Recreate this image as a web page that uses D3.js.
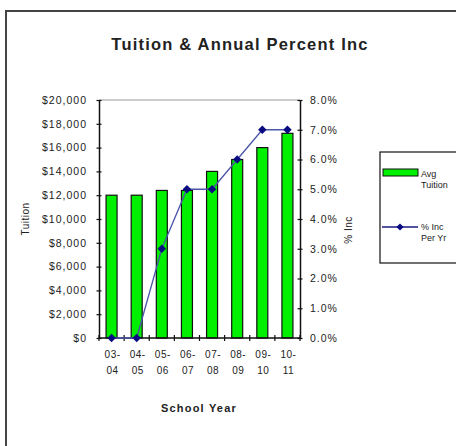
<!DOCTYPE html>
<html><head><meta charset="utf-8">
<script src="https://cdn.jsdelivr.net/npm/d3@7"></script>
<style>body{margin:0;background:#fff}svg{display:block}text{font-family:"Liberation Sans",Arial,sans-serif;fill:#222}</style>
</head><body><svg id="c" width="456" height="446"></svg>
<script>
const categories = [["03-","04"],["04-","05"],["05-","06"],["06-","07"],["07-","08"],["08-","09"],["09-","10"],["10-","11"]];
const tuition = [12000,12000,12400,12400,14000,15000,16000,17200];
const pctInc = [0,0,3,5,5,6,7,7];
const leftTicks = [0,2000,4000,6000,8000,10000,12000,14000,16000,18000,20000];
const rightTicks = [0,1,2,3,4,5,6,7,8];

const svg = d3.select("#c");
const L=99,R=300,T=100,B=338;
// outer border
svg.append("rect").attr("x",6).attr("y",11).attr("width",470).attr("height",460)
  .attr("fill","none").attr("stroke","#444").attr("stroke-width",2);

const x = d3.scaleBand().domain(d3.range(categories.length)).range([L,R]);
const yL = d3.scaleLinear().domain([0,20000]).range([B,T]);
const yR = d3.scaleLinear().domain([0,8]).range([B,T]);

// plot top border
svg.append("line").attr("x1",L).attr("x2",R).attr("y1",T).attr("y2",T).attr("stroke","#999").attr("stroke-width",1);

// bars
const bw = 11;
svg.selectAll("rect.bar").data(tuition).enter().append("rect")
  .attr("x",(d,i)=>x(i)+x.bandwidth()/2-bw/2).attr("width",bw)
  .attr("y",d=>yL(d)).attr("height",d=>B-yL(d))
  .attr("fill","#00f000").attr("stroke","#111").attr("stroke-width",1.2);

const fmtL = d=>"$"+d3.format(",")(d);
const axL = d3.axisLeft(yL).tickValues(leftTicks).tickFormat(fmtL).tickSize(5).tickSizeOuter(0);
const gL = svg.append("g").attr("transform",`translate(${L},0)`).call(axL);
gL.selectAll("line").attr("transform","translate(2.5,0)").attr("x2",-5);
const axR = d3.axisRight(yR).tickValues(rightTicks).tickFormat(d=>d.toFixed(1)+"%").tickSize(5).tickSizeOuter(0);
const gR = svg.append("g").attr("transform",`translate(${R},0)`).call(axR);
gR.selectAll("line").attr("transform","translate(-2.5,0)");
[gL,gR].forEach(g=>{
  g.select(".domain").attr("stroke","#111").attr("stroke-width",1.5);
  g.selectAll(".tick line").attr("stroke","#111").attr("stroke-width",1.2);
  g.selectAll(".tick text").attr("font-size","10.5px").attr("letter-spacing","1px").attr("fill","#333")
   .style("font-family","'Liberation Sans',Arial,sans-serif");
});
gL.selectAll(".tick text").attr("x",-12);
gR.selectAll(".tick text").attr("x",10);

// x axis
const gX = svg.append("g").attr("transform",`translate(0,${B})`);
gX.append("line").attr("x1",L).attr("x2",R).attr("stroke","#111").attr("stroke-width",1.5);
const xb = x.domain().map(i=>x(i)).concat([R]);
gX.selectAll("line.t").data(xb).enter().append("line").attr("class","t")
  .attr("x1",d=>d).attr("x2",d=>d).attr("y1",-3).attr("y2",3).attr("stroke","#111").attr("stroke-width",1.2);
const lab = gX.selectAll("text.c").data(categories).enter().append("text").attr("class","c")
  .attr("text-anchor","middle").attr("font-size","10px").attr("letter-spacing","0.5px").attr("fill","#333");
lab.each(function(d,i){
  const t=d3.select(this);
  d.forEach((s,j)=>t.append("tspan").attr("x",x(i)+x.bandwidth()/2+1).attr("y",20+j*16).text(s));
});

// line
const line = d3.line().x((d,i)=>x(i)+x.bandwidth()/2).y(d=>yR(d));
svg.append("path").datum(pctInc).attr("d",line).attr("fill","none").attr("stroke","#4a56a8").attr("stroke-width",1.3);
svg.selectAll("path.pt").data(pctInc).enter().append("path").attr("class","pt")
  .attr("d",d3.symbol().type(d3.symbolSquare).size(36))
  .attr("transform",(d,i)=>`translate(${x(i)+x.bandwidth()/2},${yR(d)}) rotate(45)`).attr("fill","#0a0a80");

// titles
svg.append("text").attr("x",240).attr("y",50).attr("text-anchor","middle")
  .attr("font-size","16.5px").attr("font-weight","bold").attr("letter-spacing","1.2px").text("Tuition & Annual Percent Inc");
svg.append("text").attr("x",199).attr("y",412).attr("text-anchor","middle")
  .attr("font-size","11px").attr("font-weight","bold").attr("letter-spacing","1.2px").text("School Year");
svg.append("text").attr("transform","translate(29,219) rotate(-90)").attr("text-anchor","middle")
  .attr("font-size","10px").attr("letter-spacing","0.5px").attr("fill","#333").text("Tuition");
svg.append("text").attr("transform","translate(352,230) rotate(-90)").attr("text-anchor","middle")
  .attr("font-size","10px").attr("letter-spacing","0.5px").attr("fill","#333").text("% Inc");

// legend
const lg = svg.append("g");
lg.append("rect").attr("x",380).attr("y",152).attr("width",90).attr("height",111)
  .attr("fill","#fff").attr("stroke","#111").attr("stroke-width",1.2);
lg.append("rect").attr("x",383).attr("y",169).attr("width",35).attr("height",7)
  .attr("fill","#00f000").attr("stroke","#111").attr("stroke-width",1);
lg.append("text").attr("font-size","9px").attr("fill","#333")
  .selectAll("tspan").data(["Avg","Tuition"]).enter().append("tspan").attr("x",421).attr("y",(d,i)=>177+i*11).text(d=>d);
lg.append("line").attr("x1",382).attr("x2",418).attr("y1",227).attr("y2",227).attr("stroke","#1a1a80").attr("stroke-width",1.3);
lg.append("path").attr("d",d3.symbol().type(d3.symbolSquare).size(26)).attr("transform","translate(400,227) rotate(45)").attr("fill","#0a0a80");
lg.append("text").attr("font-size","9px").attr("fill","#333")
  .selectAll("tspan").data(["% Inc","Per Yr"]).enter().append("tspan").attr("x",421).attr("y",(d,i)=>230+i*11).text(d=>d);
</script></body></html>
